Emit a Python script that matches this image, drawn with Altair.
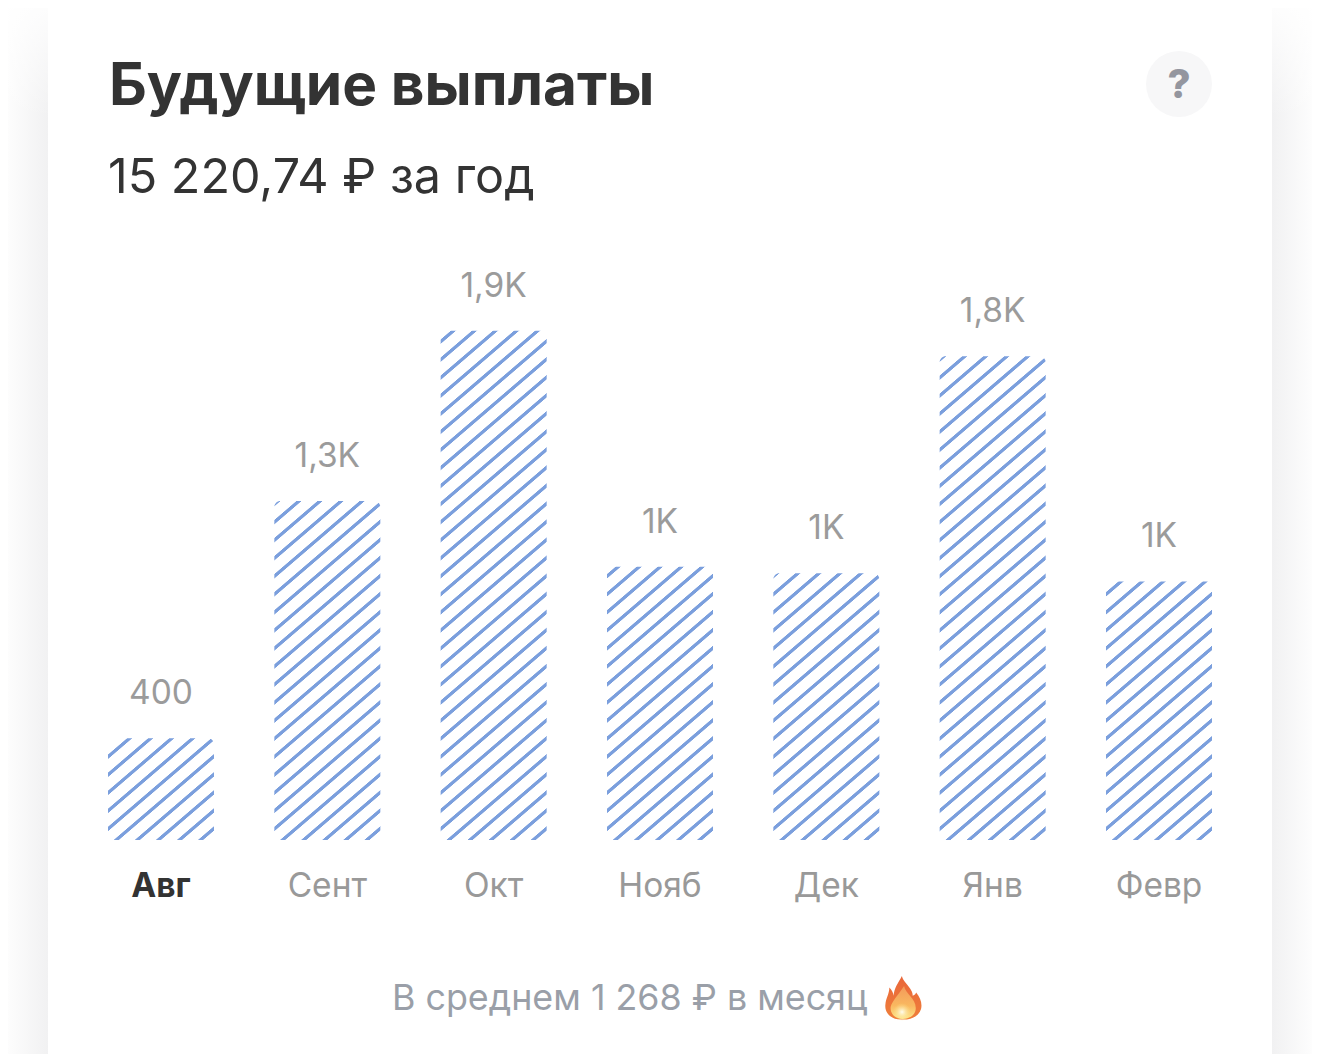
import altair as alt
import pandas as pd

months = ["Авг", "Сент", "Окт", "Нояб", "Дек", "Янв", "Февр"]
values = [380, 1265, 1900, 1020, 995, 1805, 965]
labels = ["400", "1,3K", "1,9K", "1K", "1K", "1,8K", "1K"]
title_text = "Будущие выплаты"
subtitle_text = "15 220,74 ₽ за год"
footer_text = "В среднем 1 268 ₽ в месяц"

W, H = 1304, 1046
FONT = "Inter"
PX_PER_UNIT = 0.268
BASE = 832
BAR_W = 106.0
STRIPE = "#7b9fdd"
SLOPE = 0.857
PERIOD = 18.05
PHASE = 11.0
HALF = 2.2

df = pd.DataFrame({"month": months, "value": values, "label": labels})

xs = alt.X("month:N", sort=months, axis=None,
           scale=alt.Scale(domain=months, range=[100, 1204], paddingInner=0.3627, paddingOuter=0))
ys = alt.Y("value:Q", axis=None,
           scale=alt.Scale(domain=[0, 3000], range=[BASE, BASE - 3000 * PX_PER_UNIT]))


def hatch(h):
    # s grows from the bottom-right corner of the bar towards the top-left one,
    # so that lines of constant s run up and to the right.
    w = BAR_W
    S = SLOPE * w + h
    q = S / ((SLOPE * w) ** 2 + h ** 2)
    dx, dy = SLOPE * w * q, -h * q
    seq = [(0.0, "white")]
    c = (PHASE + SLOPE * w) % PERIOD - PERIOD
    while c - HALF < S:
        for off, col in [(-HALF - 0.4, "white"), (-HALF + 0.4, STRIPE), (HALF - 0.4, STRIPE), (HALF + 0.4, "white")]:
            s = c + off
            if 0 < s < S:
                seq.append((s, col))
        c += PERIOD
    seq.append((S, "white"))
    stops = [alt.GradientStop(offset=round(s / S, 5), color=col) for s, col in seq]
    return alt.Gradient(gradient="linear", x1=1, y1=1, x2=round(1 - dx, 5), y2=round(1 + dy, 5), stops=stops)


bars = []
for m, v in zip(months, values):
    one = df[df.month == m]
    bars.append(
        alt.Chart(one).mark_bar(fill=hatch(v * PX_PER_UNIT), cornerRadius=6, width=BAR_W, orient="vertical")
        .encode(x=xs, y=ys, y2=alt.datum(0))
    )

value_text = alt.Chart(df).mark_text(font=FONT, fontSize=33.5, color="#9b9b9b", dy=-44, baseline="middle").encode(
    x=xs, y=ys, text="label:N")

month_rest = alt.Chart(df[df.month != "Авг"]).mark_text(
    font=FONT, fontSize=33.5, color="#999999", baseline="middle").encode(x=xs, y=alt.value(879), text="month:N")
month_now = alt.Chart(df[df.month == "Авг"]).mark_text(
    font=FONT, fontSize=33.5, fontWeight=700, color="#333333", baseline="middle").encode(x=xs, y=alt.value(879), text="month:N")


def text(t, x, y, **kw):
    return alt.Chart(pd.DataFrame({"t": [t]})).mark_text(font=FONT, **kw).encode(
        x=alt.value(x), y=alt.value(y), text="t:N")


def box(x, x2, y, y2, **kw):
    return alt.Chart(pd.DataFrame({"a": [0]})).mark_rect(**kw).encode(
        x=alt.value(x), x2=alt.value(x2), y=alt.value(y), y2=alt.value(y2))


shade_left = box(0, 40, 0, H, fill=alt.Gradient(gradient="linear", x1=0, y1=0, x2=1, y2=0, stops=[
    alt.GradientStop(offset=0, color="#fdfdfd"), alt.GradientStop(offset=1, color="#f1f1f2")]))
shade_right = box(1264, W, 0, H, fill=alt.Gradient(gradient="linear", x1=0, y1=0, x2=1, y2=0, stops=[
    alt.GradientStop(offset=0, color="#f1f1f2"), alt.GradientStop(offset=1, color="#fdfdfd")]))
shade_top = box(0, W, 0, 110, fill=alt.Gradient(gradient="linear", x1=0, y1=0, x2=0, y2=1, stops=[
    alt.GradientStop(offset=0, color="rgba(255,255,255,0.85)"), alt.GradientStop(offset=1, color="rgba(255,255,255,0)")]))
card = box(40, 1264, -6, H + 100, fill="white", cornerRadius=66)

help_bg = alt.Chart(pd.DataFrame({"a": [0]})).mark_point(filled=True, shape="circle", size=4356, fill="#f7f7f8", opacity=1).encode(
    x=alt.value(1171), y=alt.value(76))
help_q = text("?", 1171, 78, fontSize=40, fontWeight=800, color="#94969f", baseline="middle", align="center")


def symbol(path, x, y, half, fill):
    return alt.Chart(pd.DataFrame({"a": [0]})).mark_point(
        filled=True, shape=path, size=(2 * half) ** 2, fill=fill, opacity=1, strokeWidth=0).encode(
        x=alt.value(x), y=alt.value(y))


outer_path = ("M -0.05 -1 C 0 -0.75 0.25 -0.6 0.4 -0.3 C 0.44 -0.2 0.44 -0.15 0.44 -0.1 C 0.55 -0.15 0.58 -0.2 0.6 -0.25 "
              "C 0.8 0 0.88 0.25 0.82 0.5 C 0.72 0.85 0.35 1 -0.05 0.98 C -0.5 1 -0.85 0.7 -0.8 0.3 "
              "C -0.78 0 -0.62 -0.2 -0.62 -0.48 C -0.5 -0.35 -0.45 -0.25 -0.42 -0.1 C -0.42 -0.45 -0.2 -0.7 -0.05 -1 Z")
inner_path = ("M 0.05 -0.55 C 0.1 -0.2 0.58 0 0.58 0.45 C 0.58 0.8 0.25 0.95 -0.02 0.95 "
              "C -0.35 0.95 -0.6 0.7 -0.56 0.4 C -0.5 0.15 -0.25 -0.1 0.05 -0.55 Z")
flame_outer = symbol(outer_path, 895, 990, 22, alt.Gradient(gradient="linear", x1=0, y1=0, x2=0, y2=1, stops=[
    alt.GradientStop(offset=0, color="#e9663a"), alt.GradientStop(offset=1, color="#ef7f3a")]))
flame_inner = symbol(inner_path, 895, 990, 22, alt.Gradient(gradient="linear", x1=0, y1=0, x2=0, y2=1, stops=[
    alt.GradientStop(offset=0, color="#f39a5a"), alt.GradientStop(offset=0.6, color="#f9b860"), alt.GradientStop(offset=1, color="#fde68a")]))
flame_core = alt.Chart(pd.DataFrame({"a": [0]})).mark_point(
    filled=True, shape="circle", size=320, opacity=1, strokeWidth=0,
    fill=alt.Gradient(gradient="radial", stops=[
        alt.GradientStop(offset=0, color="#fffdf0"), alt.GradientStop(offset=1, color="rgba(253,230,138,0)")])
).encode(x=alt.value(894), y=alt.value(1004))

chart = alt.layer(
    shade_left, shade_right, shade_top, card,
    *bars,
    value_text, month_rest, month_now,
    text(title_text, 101, 97, fontSize=58.5, fontWeight=700, color="#333333", baseline="alphabetic", align="left"),
    text(subtitle_text, 100, 185, fontSize=48.5, color="#333333", baseline="alphabetic", align="left"),
    text(footer_text, 384, 991, fontSize=35.8, color="#9a9fa8", baseline="middle", align="left"),
    help_bg, help_q, flame_outer, flame_inner, flame_core,
).resolve_scale(x="shared", y="shared").properties(
    width=W, height=H, padding=0, background="white",
    autosize=alt.AutoSizeParams(type="none"),
).configure_view(stroke=None)

chart.save("out.html", embed_options={"renderer": "svg", "actions": False})
